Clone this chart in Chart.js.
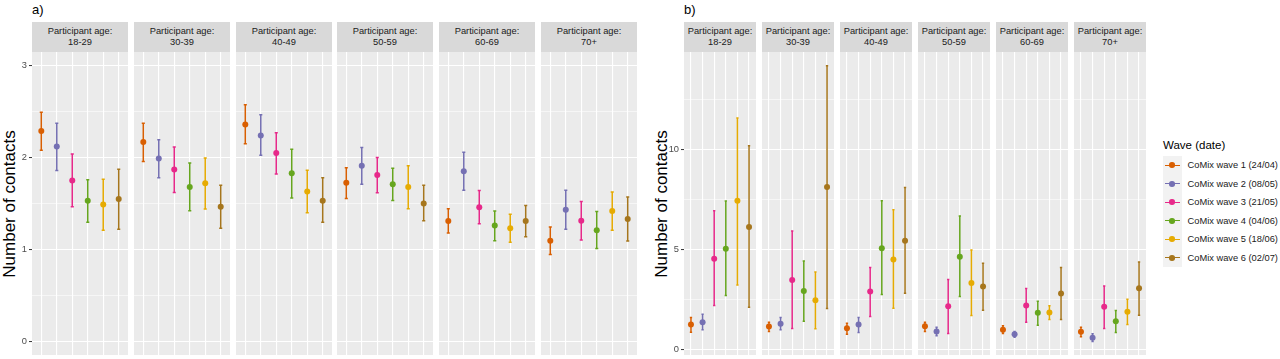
<!DOCTYPE html>
<html><head><meta charset="utf-8">
<script src="https://cdn.jsdelivr.net/npm/chart.js@4.4.0/dist/chart.umd.min.js"></script>
<style>
body{margin:0;background:#fff;width:1280px;height:359px;overflow:hidden;position:relative;font-family:"Liberation Sans",Arial,sans-serif;}
.strip{position:absolute;background:#D9D9D9;color:#1A1A1A;font-size:9.3px;line-height:11px;text-align:center;display:flex;flex-direction:column;justify-content:center;}
.ytitle{position:absolute;font-size:17px;color:#000;white-space:nowrap;transform:translate(-50%,-50%) rotate(-90deg);}
.ptitle{position:absolute;font-size:13px;color:#000;}
.lgtitle{position:absolute;font-size:11.5px;color:#000;white-space:nowrap;}
.lgkey{position:absolute;background:#F2F2F2;}
.lgline{position:absolute;height:1.4px;}
.lgdot{position:absolute;width:5.6px;height:5.6px;border-radius:50%;}
.lgtext{position:absolute;font-size:9.3px;color:#1A1A1A;white-space:nowrap;line-height:12px;}
canvas{position:absolute;}
</style></head><body>
<script>
// ---------- data ----------
const ageGroups = ['18-29','30-39','40-49','50-59','60-69','70+'];
const waveLabels = ['CoMix wave 1 (24/04)','CoMix wave 2 (08/05)','CoMix wave 3 (21/05)','CoMix wave 4 (04/06)','CoMix wave 5 (18/06)','CoMix wave 6 (02/07)'];
const waveColors = ['#D95F02','#7570B3','#E7298A','#66A61E','#E6AB02','#A6761D'];

// panel a) rows = age group, columns = wave
const aMean = [
  [2.29,2.12,1.75,1.53,1.49,1.55],
  [2.17,1.99,1.87,1.68,1.72,1.465],
  [2.36,2.24,2.05,1.83,1.63,1.53],
  [1.725,1.91,1.81,1.71,1.68,1.50],
  [1.31,1.85,1.46,1.26,1.23,1.31],
  [1.095,1.432,1.312,1.21,1.418,1.33]
];
const aLow = [
  [2.08,1.86,1.465,1.295,1.21,1.22],
  [1.957,1.78,1.62,1.42,1.44,1.23],
  [2.15,2.025,1.82,1.56,1.40,1.295],
  [1.555,1.71,1.616,1.534,1.443,1.312],
  [1.18,1.645,1.28,1.095,1.078,1.139],
  [0.944,1.219,1.103,1.009,1.21,1.092]
];
const aHigh = [
  [2.495,2.375,2.04,1.76,1.765,1.873],
  [2.375,2.195,2.115,1.94,1.996,1.70],
  [2.575,2.466,2.27,2.09,1.862,1.78],
  [1.89,2.11,2.0,1.884,1.91,1.70],
  [1.443,2.058,1.642,1.418,1.382,1.479],
  [1.244,1.645,1.523,1.414,1.624,1.57]
];
// panel b)
const bMean = [
  [1.25,1.36,4.53,5.03,7.43,6.11],
  [1.15,1.28,3.47,2.92,2.46,8.12],
  [1.06,1.25,2.89,5.05,4.49,5.43],
  [1.16,0.90,2.16,4.63,3.32,3.14],
  [0.98,0.76,2.19,1.83,1.84,2.79],
  [0.88,0.58,2.13,1.41,1.88,3.06]
];
const bLow = [
  [0.86,0.98,2.19,2.69,3.22,2.11],
  [0.90,0.98,1.05,1.41,1.03,2.04],
  [0.76,0.85,1.64,2.74,2.06,2.81],
  [0.90,0.68,0.80,2.64,1.69,1.96],
  [0.80,0.61,1.36,1.21,1.50,1.50],
  [0.63,0.40,1.05,0.85,1.25,1.71]
];
const bHigh = [
  [1.59,1.76,6.93,7.41,11.56,10.17],
  [1.36,1.59,5.91,4.42,3.87,14.17],
  [1.31,1.59,4.09,7.43,6.98,8.09],
  [1.36,1.11,3.49,6.66,4.97,4.30],
  [1.18,0.90,3.04,2.41,2.18,4.09],
  [1.11,0.78,3.17,1.94,2.51,4.37]
];
const aTicks = [0,1,2,3];
const aMinor = [0.5,1.5,2.5];
const bTicks = [0,5,10];
const bMinor = [2.5,7.5,12.5];
const aRange = [-0.15,3.15];
const bRange = [-0.28,14.86];

// ---------- layout ----------
const FONT = '"Liberation Sans", Arial, sans-serif';
const TOP = 52, H = 303, AXW = 30;
const panels = [
  {name:'a)', left0:32, stride:101.8, w:96, mean:aMean, lo:aLow, hi:aHigh, majors:aTicks, minors:aMinor, range:aRange, ytx:9.5},
  {name:'b)', left0:684, stride:77.9, w:72, mean:bMean, lo:bLow, hi:bHigh, majors:bTicks, minors:bMinor, range:bRange, ytx:662}
];

const bgPlugin = {
  id:'panelBg',
  beforeDraw(chart){
    const {ctx, chartArea:a} = chart;
    ctx.save(); ctx.fillStyle='#EBEBEB';
    ctx.fillRect(a.left, a.top, a.right-a.left, a.bottom-a.top);
    ctx.restore();
  }
};
const errPlugin = {
  id:'errBars',
  afterDatasetsDraw(chart){
    const {ctx} = chart;
    const xs = chart.scales.x, ys = chart.scales.y;
    chart.data.datasets.forEach(ds=>{
      ds.data.forEach((p,i)=>{
        const x = xs.getPixelForValue(p.x);
        const x1 = xs.getPixelForValue(p.x-0.1), x2 = xs.getPixelForValue(p.x+0.1);
        const yl = ys.getPixelForValue(ds.lo[i]), yh = ys.getPixelForValue(ds.hi[i]);
        ctx.save();
        ctx.strokeStyle = waveColors[i]; ctx.lineWidth = 1.5;
        ctx.beginPath();
        ctx.moveTo(x, yl); ctx.lineTo(x, yh);
        ctx.moveTo(x1, yl); ctx.lineTo(x2, yl);
        ctx.moveTo(x1, yh); ctx.lineTo(x2, yh);
        ctx.stroke();
        ctx.beginPath();
        ctx.fillStyle = waveColors[i];
        ctx.arc(x, ys.getPixelForValue(p.y), 3, 0, Math.PI*2);
        ctx.fill();
        ctx.restore();
      });
    });
  }
};

function addDiv(cls, style, html){
  const d = document.createElement('div');
  d.className = cls; d.setAttribute('style', style); d.innerHTML = html;
  document.body.appendChild(d); return d;
}

panels.forEach(P=>{
  addDiv('ptitle', `left:${P.left0}px;top:2px;`, P.name);
  addDiv('ytitle', `left:${P.ytx}px;top:${TOP+H/2}px;`, 'Number of contacts');
  const allTicks = [...P.majors, ...P.minors].sort((a,b)=>a-b);
  ageGroups.forEach((ag, k)=>{
    const left = Math.round(P.left0 + k*P.stride);
    const showAxis = k===0;
    const L = showAxis ? AXW : 0;
    addDiv('strip', `left:${left}px;top:22px;width:${P.w}px;height:${TOP-22}px;`, `<div>Participant age:</div><div>${ag}</div>`);
    const c = document.createElement('canvas');
    c.width = P.w + L; c.height = H;
    c.style.left = (left - L) + 'px'; c.style.top = TOP + 'px';
    c.style.width = (P.w + L) + 'px'; c.style.height = H + 'px';
    document.body.appendChild(c);
    new Chart(c, {
      type:'scatter',
      data:{datasets:[{
        data: P.mean[k].map((v,i)=>({x:i+1, y:v})),
        lo: P.lo[k], hi: P.hi[k],
        pointRadius:0, pointHoverRadius:0, showLine:false
      }]},
      options:{
        responsive:false, animation:false, devicePixelRatio:1, events:[],
        layout:{padding:0, autoPadding:false},
        plugins:{legend:{display:false}, tooltip:{enabled:false}, title:{display:false}},
        scales:{
          x:{type:'linear', min:0.4, max:6.6,
             afterBuildTicks:s=>{ s.ticks = waveLabels.map((_,i)=>({value:i+1})); },
             ticks:{display:false},
             grid:{color:'#FFFFFF', lineWidth:1.1, drawTicks:false},
             border:{display:false},
             afterFit:s=>{ s.height = 0; s.paddingLeft = 0; s.paddingRight = 0; }},
          y:{type:'linear', min:P.range[0], max:P.range[1],
             afterBuildTicks:s=>{ s.ticks = allTicks.map(v=>({value:v})); },
             ticks:{display:showAxis, autoSkip:false, padding:2, color:'#4D4D4D',
                    font:{size:9.3, family:FONT},
                    callback:v=> P.majors.includes(v) ? String(v) : ''},
             grid:{color:'#FFFFFF',
                   lineWidth:ctx=> (ctx.tick && P.majors.includes(ctx.tick.value)) ? 1.1 : 0.55,
                   drawTicks:showAxis, tickLength:3, tickWidth:1,
                   tickColor:ctx=> (ctx.tick && P.majors.includes(ctx.tick.value)) ? '#333333' : 'rgba(0,0,0,0)'},
             border:{display:false},
             afterFit:s=>{ s.width = L; s.paddingTop = 0; s.paddingBottom = 0; }}
        }
      },
      plugins:[bgPlugin, errPlugin]
    });
  });
});

// ---------- legend ----------
const LGX = 1163, LGY = 156, KEY = 18.5;
addDiv('lgtitle', `left:${LGX}px;top:139px;`, 'Wave (date)');
addDiv('lgkey', `left:${LGX}px;top:${LGY}px;width:${KEY}px;height:${KEY*waveLabels.length}px;`, '');
waveLabels.forEach((lab,i)=>{
  const cy = LGY + KEY*i + KEY/2;
  addDiv('lgline', `left:${LGX+1.5}px;top:${cy-0.7}px;width:${KEY-3}px;background:${waveColors[i]};`, '');
  addDiv('lgdot', `left:${LGX+KEY/2-2.8}px;top:${cy-2.8}px;background:${waveColors[i]};`, '');
  addDiv('lgtext', `left:${LGX+KEY+6}px;top:${cy-6}px;`, lab);
});
</script>
</body></html>
